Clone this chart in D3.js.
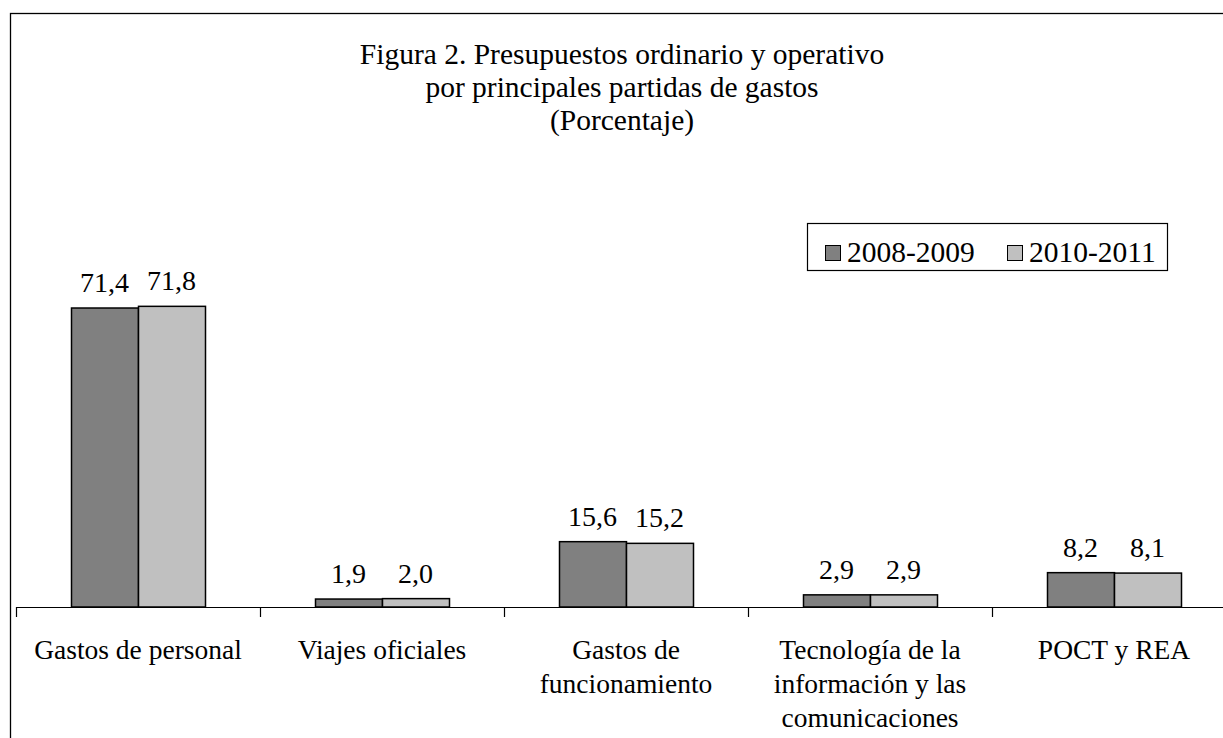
<!DOCTYPE html>
<html>
<head>
<meta charset="utf-8">
<script src="https://cdn.jsdelivr.net/npm/d3@7"></script>
<style>
  body { margin: 0; background: #fff; }
  svg { display: block; font-family: "Liberation Serif", "Times New Roman", serif; }
</style>
</head>
<body>
<svg width="1223" height="738"></svg>
<script>
// data
const categories = [
  ["Gastos de personal"],
  ["Viajes oficiales"],
  ["Gastos de", "funcionamiento"],
  ["Tecnología de la", "información y las", "comunicaciones"],
  ["POCT y REA"]
];
const series = ["2008-2009", "2010-2011"];
const values2008 = [71.4, 1.9, 15.6, 2.9, 8.2];
const values2010 = [71.8, 2.0, 15.2, 2.9, 8.1];
const titleLines = [
  "Figura 2. Presupuestos ordinario y operativo",
  "por principales partidas de gastos",
  "(Porcentaje)"
];
const colors = ["#808080", "#c0c0c0"];

var svg = d3.select('svg');
var fontSize = 27.5;

// outer frame (runs off the right/bottom edge like the original)
svg.append('rect')
  .attr('x', 10.5).attr('y', 13.5)
  .attr('width', 1240).attr('height', 760)
  .attr('fill', 'none').attr('stroke', '#000').attr('stroke-width', 1.3);

// title
svg.append('g').selectAll('text')
  .data(titleLines)
  .enter().append('text')
  .attr('x', 622)
  .attr('y', (d, i) => 64 + i * 33)
  .attr('text-anchor', 'middle')
  .attr('font-size', '29.5px')
  .text(d => d);

var baseY = 607;
var x0 = d3.scaleBand()
  .domain(d3.range(categories.length))
  .range([16, 16 + 244 * categories.length]);

var x1 = d3.scaleBand()
  .domain(series)
  .range([0, 134]);

var y = d3.scaleLinear()
  .domain([0, 80])
  .range([baseY, 272]);

var rows = categories.map((c, i) => ({ i: i, vals: [values2008[i], values2010[i]] }));

var groups = svg.append('g').selectAll('g')
  .data(rows)
  .enter().append('g')
  .attr('transform', d => `translate(${x0(d.i) + (x0.bandwidth() - 134) / 2},0)`);

groups.selectAll('rect')
  .data(d => d.vals.map((v, k) => ({ v: v, k: k })))
  .enter().append('rect')
  .attr('x', d => x1(series[d.k]) + 0.5)
  .attr('y', d => y(d.v))
  .attr('width', x1.bandwidth())
  .attr('height', d => baseY - y(d.v))
  .attr('fill', d => colors[d.k])
  .attr('stroke', '#000')
  .attr('stroke-width', 1.5);

groups.selectAll('text')
  .data(d => d.vals.map((v, k) => ({ v: v, k: k })))
  .enter().append('text')
  .attr('x', d => x1(series[d.k]) + x1.bandwidth() / 2)
  .attr('y', d => y(d.v) - 16)
  .attr('text-anchor', 'middle')
  .attr('font-size', '28px')
  .text(d => d3.format('.1f')(d.v).replace('.', ','));

// x axis: baseline and ticks between categories
var ax = svg.append('g');
ax.append('line')
  .attr('x1', 16).attr('x2', 1240)
  .attr('y1', baseY + 0.5).attr('y2', baseY + 0.5)
  .attr('stroke', '#000').attr('stroke-width', 1.2);
ax.selectAll('line.tick')
  .data(d3.range(categories.length + 1))
  .enter().append('line')
  .attr('class', 'tick')
  .attr('x1', d => 16 + d * x0.step() + 0.5)
  .attr('x2', d => 16 + d * x0.step() + 0.5)
  .attr('y1', baseY).attr('y2', baseY + 10)
  .attr('stroke', '#000').attr('stroke-width', 1.2);

var lab = ax.selectAll('text.cat')
  .data(rows)
  .enter().append('text')
  .attr('class', 'cat')
  .attr('text-anchor', 'middle')
  .attr('font-size', fontSize + 'px');
lab.selectAll('tspan')
  .data(d => categories[d.i].map(t => ({ t: t, i: d.i })))
  .enter().append('tspan')
  .attr('x', d => x0(d.i) + x0.bandwidth() / 2)
  .attr('y', (d, j) => 659 + j * 34)
  .text(d => d.t);

// legend
var leg = svg.append('g');
leg.append('rect')
  .attr('x', 807.5).attr('y', 223.5)
  .attr('width', 360).attr('height', 47)
  .attr('fill', '#fff').attr('stroke', '#000').attr('stroke-width', 1.2);
var items = leg.selectAll('g')
  .data(series)
  .enter().append('g')
  .attr('transform', (d, i) => `translate(${825 + i * 182},0)`);
items.append('rect')
  .attr('x', 0.5).attr('y', 245.5)
  .attr('width', 15).attr('height', 15)
  .attr('fill', (d, i) => colors[i])
  .attr('stroke', '#000').attr('stroke-width', 1);
items.append('text')
  .attr('x', 22).attr('y', 262)
  .attr('font-size', '29.5px')
  .text(d => d);
</script>
</body>
</html>
